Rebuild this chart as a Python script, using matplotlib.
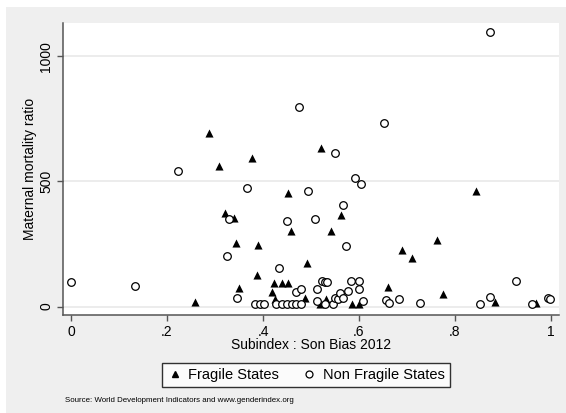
import matplotlib
matplotlib.use("Agg")
import matplotlib.pyplot as plt
from matplotlib.lines import Line2D
from matplotlib.patches import Rectangle

# Fragile states: (son bias subindex, maternal mortality ratio)
fragile_x = [0.258, 0.288, 0.308, 0.321, 0.340, 0.343, 0.349, 0.378, 0.388, 0.390,
             0.418, 0.423, 0.425, 0.439, 0.453, 0.453, 0.458, 0.487, 0.492, 0.520,
             0.519, 0.531, 0.541, 0.563, 0.585, 0.599, 0.660, 0.689, 0.711, 0.763,
             0.774, 0.844, 0.883, 0.969]
fragile_y = [17, 695, 563, 375, 355, 255, 73, 592, 126, 246,
             60, 93, 29, 95, 95, 454, 303, 35, 174, 632,
             12, 30, 303, 366, 12, 12, 77, 226, 193, 265,
             49, 462, 18, 13]

# Non fragile states
nonfragile_x = [0.000, 0.133, 0.222, 0.324, 0.329, 0.345, 0.367, 0.383, 0.393, 0.403,
                0.428, 0.434, 0.439, 0.449, 0.449, 0.460, 0.469, 0.469, 0.474, 0.480,
                0.480, 0.494, 0.509, 0.512, 0.512, 0.522, 0.529, 0.533, 0.529, 0.546,
                0.551, 0.550, 0.557, 0.560, 0.566, 0.567, 0.572, 0.578, 0.583, 0.592,
                0.600, 0.600, 0.604, 0.609, 0.652, 0.656, 0.663, 0.684, 0.727, 0.852,
                0.872, 0.872, 0.927, 0.960, 0.993, 0.997]
nonfragile_y = [97, 82, 543, 202, 351, 35, 473, 12, 12, 12,
                12, 155, 12, 343, 12, 12, 12, 57, 799, 12,
                72, 463, 352, 72, 22, 102, 97, 97, 9, 12,
                612, 33, 29, 55, 406, 35, 242, 63, 102, 512,
                102, 69, 490, 22, 733, 26, 13, 30, 15, 10,
                1097, 39, 102, 10, 35, 29]

x_ticks = [0, 0.2, 0.4, 0.6, 0.8, 1.0]
x_tick_labels = ["0", ".2", ".4", ".6", ".8", "1"]
y_ticks = [0, 500, 1000]

plt.rcParams["font.family"] = ["Liberation Sans", "DejaVu Sans"]

W, H = 566, 413
fig = plt.figure(figsize=(W / 100, H / 100), dpi=100)
fig.patch.set_facecolor("white")
fig.patches.append(Rectangle((6 / W, 0), 1 - 6 / W, 1 - 7 / H, transform=fig.transFigure,
                             facecolor="#efefef", edgecolor="none", zorder=-10))

ax = fig.add_axes([63 / W, (H - 315) / H, (559 - 63) / W, (315 - 23) / H])
ax.set_facecolor("white")

ax.scatter(fragile_x, fragile_y, marker="^", s=34, c="black", linewidths=0, zorder=3)
ax.scatter(nonfragile_x, nonfragile_y, marker="o", s=30, facecolors="white",
           edgecolors="black", linewidths=0.9, zorder=3)

ax.set_xlim(-0.0167, 1.0167)
ax.set_ylim(-34, 1134)
ax.set_xticks(x_ticks)
ax.set_xticklabels(x_tick_labels)
ax.set_yticks(y_ticks)
ax.grid(axis="y", color="#eaeaea", linewidth=1.3, zorder=0)
ax.set_axisbelow(True)

for side in ["top", "right"]:
    ax.spines[side].set_visible(False)
for side in ["left", "bottom"]:
    ax.spines[side].set_color("#555555")
    ax.spines[side].set_linewidth(1.1)

ax.tick_params(axis="both", colors="#555555", length=4, width=1.0, labelsize=10,
               labelcolor="black", pad=3)
ax.tick_params(axis="y", labelrotation=90)
for lab in ax.get_yticklabels():
    lab.set_va("center")

ax.set_xlabel("Subindex : Son Bias 2012", fontsize=10)
ax.xaxis.set_label_coords(0.5, -0.103)
ax.xaxis.label.set_va("center")
ax.set_ylabel("Maternal mortality ratio", fontsize=10)
ax.yaxis.set_label_coords(-0.0665, 0.5)
ax.yaxis.label.set_va("center")

handles = [
    Line2D([0], [0], marker="^", color="none", markerfacecolor="black",
           markeredgecolor="black", markersize=5, label="Fragile States"),
    Line2D([0], [0], marker="o", color="none", markerfacecolor="white",
           markeredgecolor="black", markeredgewidth=0.9, markersize=5,
           label="Non Fragile States"),
]
leg = fig.legend(handles=handles, loc="center", bbox_to_anchor=(306 / W, 1 - 375 / H),
                 ncol=2, frameon=True, fancybox=False, fontsize=10.5,
                 handlelength=1.0, handletextpad=0.4, columnspacing=1.6,
                 borderpad=0.35)
leg.get_frame().set_edgecolor("black")
leg.get_frame().set_linewidth(1.0)
leg.get_frame().set_facecolor("white")

fig.text(65 / W, 1 - 401 / H, "Source: World Development Indicators and www.genderindex.org",
         fontsize=5.7, va="center", ha="left")

fig.savefig("out.png", dpi=100, facecolor=fig.get_facecolor())
